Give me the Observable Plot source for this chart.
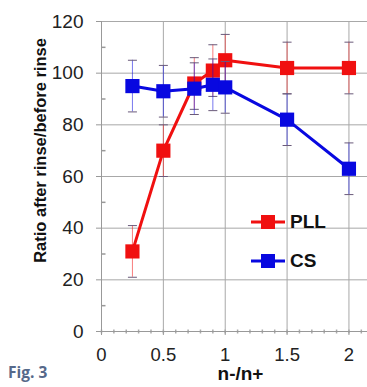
<!DOCTYPE html>
<html>
<head>
<meta charset="utf-8">
<script src="https://cdn.jsdelivr.net/npm/d3@7"></script>
<script src="https://cdn.jsdelivr.net/npm/@observablehq/plot@0.6"></script>
<style>
  html, body { margin: 0; padding: 0; background: #fff; }
  #wrap { position: relative; width: 367px; height: 387px; overflow: hidden; }
  #fig { position: absolute; left: 8px; top: 361px; font: bold 15.5px "Open Sans", sans-serif; color: #56698a; }
  #legend { position: absolute; left: 251px; top: 202px; font: bold 19px "Liberation Sans", Arial, sans-serif; color: #111; }
  #legend .row { display: flex; align-items: center; height: 39px; }
  #legend svg { margin-right: 5px; }
</style>
</head>
<body>
<div id="wrap">
  <div id="chart"></div>
  <div id="legend"></div>
  <div id="fig">Fig. 3</div>
</div>
<script>
const xs = [0.25, 0.5, 0.75, 0.9, 1, 1.5, 2];
const pll = [31, 70, 96, 101, 105, 102, 102];
const pllErr = [10, 10, 10, 10, 10, 10, 10];
const cs = [95, 93, 94, 95.5, 94.5, 82, 63];
const csErr = [10, 10, 10, 10, 10, 10, 10];
const seriesNames = ["PLL", "CS"];
const seriesColors = ["#f01010", "#0808e0"];
const xTicks = [0, 0.5, 1, 1.5, 2];
const xTickLabels = ["0", "0.5", "1", "1.5", "2"];
const yTicks = [0, 20, 40, 60, 80, 100, 120];
const yMinor = [10, 30, 50, 70, 90, 110];
const xMinor = d3.range(0, 2.15, 0.1);

const rows = [];
seriesNames.forEach((name, s) => {
  const vals = s === 0 ? pll : cs;
  const errs = s === 0 ? pllErr : csErr;
  xs.forEach((x, i) => rows.push({series: name, x, y: vals[i], lo: vals[i] - errs[i], hi: vals[i] + errs[i]}));
});

const cap = { draw(ctx, size) { const r = 4.5; ctx.moveTo(-r, 0); ctx.lineTo(r, 0); } };
const minorTickY = { draw(ctx) { ctx.moveTo(0, 0); ctx.lineTo(4, 0); } };
const minorTickX = { draw(ctx) { ctx.moveTo(0, -2); ctx.lineTo(0, 2); } };

const marks = [
  Plot.gridX(xTicks.slice(1), {stroke: "#a8a8a8", strokeOpacity: 1, strokeWidth: 1}),
  Plot.gridY(yTicks.slice(1), {stroke: "#a8a8a8", strokeOpacity: 1, strokeWidth: 1}),
  Plot.dot(yMinor, {x: 0, y: d => d, symbol: minorTickY, stroke: "#999", r: 3}),
  Plot.dot(xMinor, {x: d => d, y: 0, symbol: minorTickX, stroke: "#aaa", r: 3}),
  Plot.ruleX([0], {stroke: "#999"}),
  Plot.ruleY([0], {stroke: "#999"}),
  Plot.axisY({ticks: yTicks, tickSize: 5, tickPadding: 13, stroke: "#999", fontSize: 19, fill: "#222", label: null}),
  Plot.axisX({ticks: xTicks, tickFormat: (d, i) => xTickLabels[i], tickSize: 4, tickPadding: 12, stroke: "#999", fontSize: 18.5, fill: "#222", label: null}),
  Plot.text(["Ratio after rinse/before rinse"], {frameAnchor: "left", textAnchor: "middle", rotate: -90, dx: -61, dy: -26, fontSize: 16.5, fontWeight: "bold", fill: "#111", text: d => d}),
  Plot.text(["n-/n+"], {frameAnchor: "bottom", textAnchor: "middle", dy: 48, dx: 6, fontSize: 19, fontWeight: "bold", fill: "#111", text: d => d})
];

seriesNames.forEach((name, s) => {
  const data = rows.filter(r => r.series === name);
  const c = seriesColors[s];
  marks.push(
    Plot.ruleX(data, {x: "x", y1: "lo", y2: "hi", stroke: c, strokeOpacity: 0.55, strokeWidth: 1}),
    Plot.dot(data, {x: "x", y: "lo", symbol: cap, stroke: "#6a5a7a", strokeWidth: 1, r: 3}),
    Plot.dot(data, {x: "x", y: "hi", symbol: cap, stroke: "#6a5a7a", strokeWidth: 1, r: 3}),
    Plot.line(data, {x: "x", y: "y", stroke: c, strokeWidth: 3}),
    Plot.dot(data, {x: "x", y: "y", symbol: "square", fill: c, r: 8})
  );
});

const chart = Plot.plot({
  width: 367,
  height: 387,
  marginLeft: 101,
  marginTop: 21,
  marginBottom: 56,
  marginRight: 0,
  style: {fontFamily: "'Liberation Sans', Arial, sans-serif", background: "#fff", overflow: "visible"},
  x: {domain: [0, 2.15]},
  y: {domain: [0, 120]},
  marks
});
document.getElementById("chart").appendChild(chart);

const legend = document.getElementById("legend");
seriesNames.forEach((name, s) => {
  const row = document.createElement("div");
  row.className = "row";
  row.innerHTML = `<svg width="34" height="16"><line x1="0" y1="8" x2="34" y2="8" stroke="${seriesColors[s]}" stroke-width="3"/><rect x="10" y="1" width="14" height="14" fill="${seriesColors[s]}"/></svg><span>${name}</span>`;
  legend.appendChild(row);
});
</script>
</body>
</html>
